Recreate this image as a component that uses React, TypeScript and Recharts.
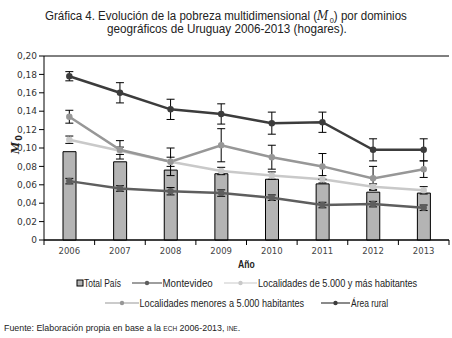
import React, { useLayoutEffect, useRef, useState } from "react";
import { ComposedChart, Bar, Line, XAxis, YAxis, CartesianGrid, ErrorBar } from "recharts";

const years = ["2006", "2007", "2008", "2009", "2010", "2011", "2012", "2013"];
const totalPais = [0.096, 0.085, 0.076, 0.072, 0.066, 0.061, 0.052, 0.051];
const montevideo = [0.064, 0.056, 0.053, 0.051, 0.046, 0.038, 0.039, 0.035];
const montevideoErr = [0.003, 0.003, 0.004, 0.0035, 0.003, 0.003, 0.003, 0.003];
const loc5000 = [0.109, 0.097, 0.085, 0.075, 0.07, 0.066, 0.058, 0.054];
const loc5000Err = [0.004, 0.004, 0.005, 0.004, 0.004, 0.004, 0.003, 0.004];
const locMenores = [0.134, 0.098, 0.085, 0.103, 0.09, 0.08, 0.067, 0.077];
const locMenoresErr = [0.007, 0.01, 0.015, 0.018, 0.013, 0.014, 0.013, 0.009];
const rural = [0.178, 0.16, 0.142, 0.137, 0.127, 0.128, 0.098, 0.098];
const ruralErr = [0.005, 0.011, 0.011, 0.011, 0.012, 0.011, 0.012, 0.012];
const yTicks = [0, 0.02, 0.04, 0.06, 0.08, 0.1, 0.12, 0.14, 0.16, 0.18, 0.2];

const data = years.map((y, i) => ({
  year: y,
  total: totalPais[i],
  mvd: montevideo[i],
  mvdErr: montevideoErr[i],
  loc5: loc5000[i],
  loc5Err: loc5000Err[i],
  locMen: locMenores[i],
  locMenErr: locMenoresErr[i],
  rural: rural[i],
  ruralErr: ruralErr[i],
}));

const C_MVD = "#5e5e5e";
const C_LOC5 = "#c9c9c9";
const C_MEN = "#979797";
const C_RUR = "#3c3c3c";
const TXT = "#222";

const fmtY = (v: number) => (v === 0 ? "0" : v.toFixed(2).replace(".", ","));

const XTick = (props: any) => {
  const { x, y, payload, index } = props;
  const half = payload && payload.offset ? payload.offset : 25.3;
  return (
    <g>
      <line x1={x - half} y1={y - 8} x2={x - half} y2={y - 3} stroke="#000" />
      {index === years.length - 1 && (
        <line x1={x + half} y1={y - 8} x2={x + half} y2={y - 3} stroke="#000" />
      )}
      <text x={x} y={y + 6} textAnchor="middle" fontSize={8.5} fill="#444" fontFamily="'DejaVu Sans', Verdana, sans-serif">
        {payload.value}
      </text>
    </g>
  );
};

const SANS = "'Liberation Sans', Arial, sans-serif";

// Text that is horizontally scaled to span a given width (condensed look of the reference font)
const FitText = ({ x, y, width, size, weight, children }: any) => {
  const ref = useRef<SVGTextElement>(null);
  const [s, setS] = useState(0.85);
  useLayoutEffect(() => {
    if (ref.current) {
      const w = ref.current.getBBox().width;
      if (w > 0) setS(width / w);
    }
  }, [width]);
  return (
    <g transform={`translate(${x},${y}) scale(${s},1)`}>
      <text ref={ref} x={0} y={0} fontSize={size} fontFamily={SANS} fontWeight={weight || "normal"} fill={TXT}>
        {children}
      </text>
    </g>
  );
};

const LegLine = ({ x1, x2, y, color }: any) => (
  <g>
    <line x1={x1} y1={y} x2={x2} y2={y} stroke={color} strokeWidth={1.2} />
    <circle cx={(x1 + x2) / 2} cy={y} r={2.2} fill={color} />
  </g>
);

export default function App() {
  return (
    <div style={{ position: "absolute", left: 0, top: 0, width: 452, height: 338, background: "#fff", overflow: "hidden" }}>
      <div style={{ position: "absolute", left: 0, top: 0 }}>
        <ComposedChart
          width={452}
          height={338}
          data={data}
          margin={{ top: 56, right: 3, left: 0, bottom: 68 }}
          barCategoryGap={0}
        >
          <CartesianGrid vertical={false} stroke="#000" strokeWidth={1} />
          <XAxis
            dataKey="year"
            height={30}
            axisLine={{ stroke: "#000" }}
            tickLine={false}
            tick={<XTick />}
            interval={0}
          />
          <YAxis
            yAxisId="l"
            domain={[0, 0.2]}
            ticks={yTicks}
            tickFormatter={fmtY}
            width={44}
            axisLine={{ stroke: "#000" }}
            tickLine={{ stroke: "#000" }}
            tickSize={5}
            tick={{ fontSize: 9, fill: "#333", fontFamily: "'DejaVu Sans', Verdana, sans-serif" }}
            interval={0}
          />
          <YAxis
            yAxisId="r"
            orientation="right"
            domain={[0, 0.2]}
            width={0}
            tick={false}
            tickLine={false}
            axisLine={{ stroke: "#000" }}
          />
          <Bar yAxisId="l" dataKey="total" barSize={13} fill="#b4b4b4" stroke="#000" strokeWidth={1} isAnimationActive={false} />
          <Line yAxisId="l" dataKey="mvd" stroke={C_MVD} strokeWidth={2.5} dot={{ r: 2, fill: C_MVD, stroke: C_MVD }} isAnimationActive={false}>
            <ErrorBar dataKey="mvdErr" width={4} stroke="#000" strokeWidth={1} direction="y" />
          </Line>
          <Line yAxisId="l" dataKey="loc5" stroke={C_LOC5} strokeWidth={2.5} dot={{ r: 2, fill: C_LOC5, stroke: C_LOC5 }} isAnimationActive={false}>
            <ErrorBar dataKey="loc5Err" width={4} stroke="#000" strokeWidth={1} direction="y" />
          </Line>
          <Line yAxisId="l" dataKey="locMen" stroke={C_MEN} strokeWidth={2.5} dot={{ r: 2, fill: C_MEN, stroke: C_MEN }} isAnimationActive={false}>
            <ErrorBar dataKey="locMenErr" width={4} stroke="#000" strokeWidth={1} direction="y" />
          </Line>
          <Line yAxisId="l" dataKey="rural" stroke={C_RUR} strokeWidth={2.5} dot={{ r: 2, fill: C_RUR, stroke: C_RUR }} isAnimationActive={false}>
            <ErrorBar dataKey="ruralErr" width={4} stroke="#000" strokeWidth={1} direction="y" />
          </Line>
        </ComposedChart>
      </div>
      <svg width={452} height={338} style={{ position: "absolute", left: 0, top: 0, pointerEvents: "none" }}>
        {/* Title */}
        <FitText x={45} y={20} width={362} size={12.5}>
          Gráfica 4. Evolución de la pobreza multidimensional (
          <tspan fontStyle="italic" fontFamily="'DejaVu Serif', serif" fontSize={12}>M</tspan>
          <tspan fontSize={8} dx={1.5} dy={3}>0</tspan>
          <tspan dy={-3}>) por dominios</tspan>
        </FitText>
        <FitText x={107} y={33} width={240} size={12.5}>
          geográficos de Uruguay 2006-2013 (hogares).
        </FitText>

        {/* Y axis title */}
        <g transform="translate(19,148) rotate(-90)">
          <text x={-6} y={0} fontSize={11} fontFamily="'DejaVu Serif', serif" fontStyle="italic" fontWeight="bold" fill={TXT}>
            M
            <tspan fontSize={8} fontStyle="normal" fontFamily="'DejaVu Sans', sans-serif" dx={1} dy={3}>0</tspan>
          </text>
        </g>

        {/* X axis title */}
        <FitText x={238} y={268} width={17} size={10} weight="bold">Año</FitText>

        {/* Legend row 1 */}
        <rect x={77} y={280} width={6} height={6} fill="#b4b4b4" stroke="#000" strokeWidth={1} />
        <FitText x={84} y={287} width={37} size={11}>Total País</FitText>
        <LegLine x1={132} x2={162} y={283} color={C_MVD} />
        <FitText x={162.5} y={287} width={50.5} size={11}>Montevideo</FitText>
        <LegLine x1={224} x2={257} y={283} color={C_LOC5} />
        <FitText x={258} y={287} width={159} size={11}>Localidades de 5.000 y más habitantes</FitText>

        {/* Legend row 2 */}
        <LegLine x1={105} x2={139} y={303} color={C_MEN} />
        <FitText x={139.5} y={307} width={164.5} size={11}>Localidades menores a 5.000 habitantes</FitText>
        <LegLine x1={321} x2={350} y={303} color={C_RUR} />
        <FitText x={351} y={307} width={37} size={11}>Área rural</FitText>

        {/* Footer */}
        <FitText x={4} y={331} width={236} size={9.5}>
          Fuente: Elaboración propia en base a la <tspan fontSize={7}>ECH</tspan> 2006-2013, <tspan fontSize={7}>INE</tspan>.
        </FitText>
      </svg>
    </div>
  );
}
